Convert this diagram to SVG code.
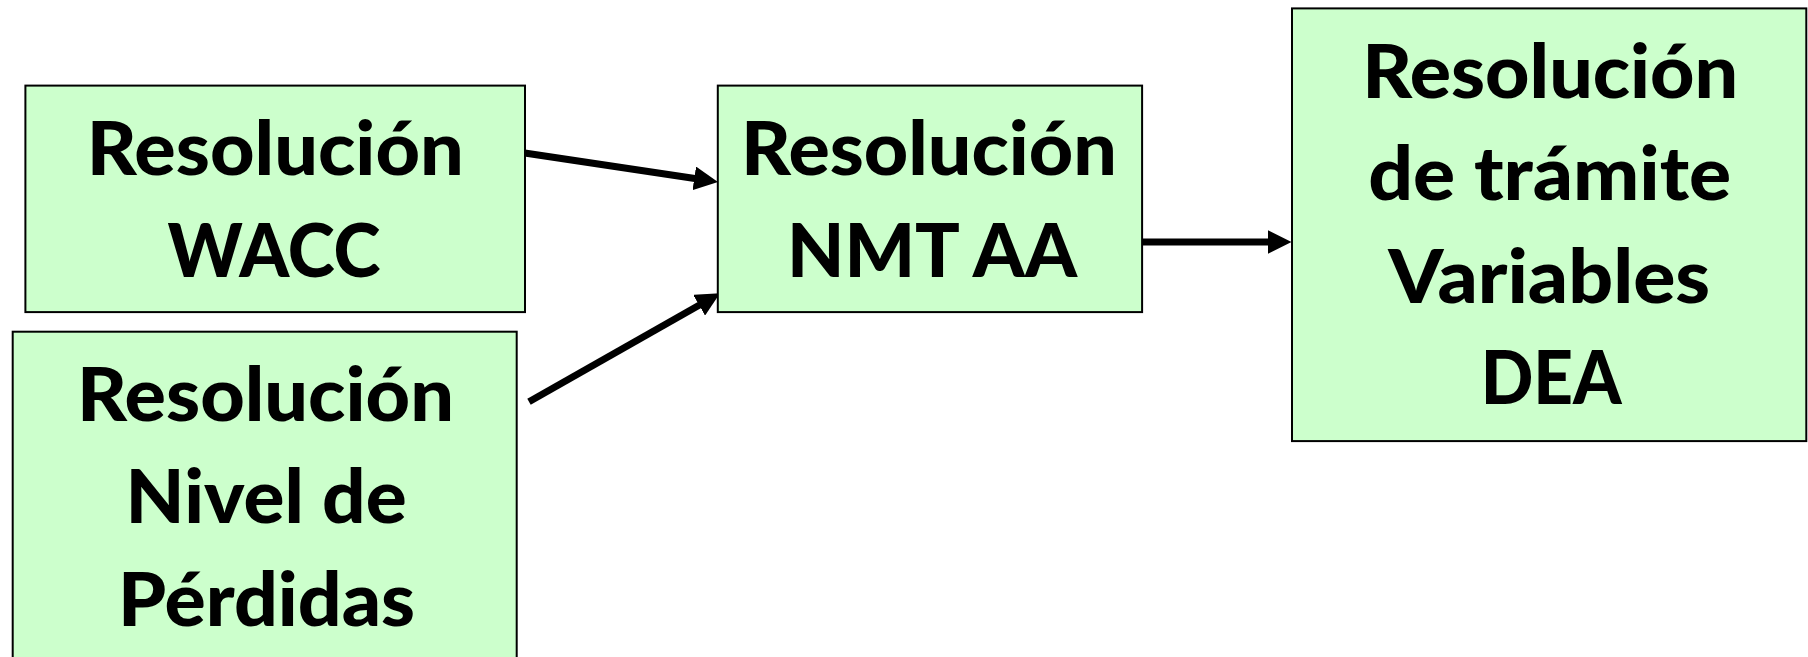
<svg xmlns="http://www.w3.org/2000/svg" width="1808" height="657" viewBox="0 0 1808 657">
  <style>
    .box { fill: #CCFFCC; stroke: #000000; stroke-width: 2; }
    .lbl { font-family: Lato, "Open Sans", "Liberation Sans", sans-serif; font-weight: 900; font-size: 75px; fill: #000000; text-anchor: middle; }
    .conn { stroke: #000000; stroke-width: 7; fill: none; marker-end: url(#arrow); }
  </style>
  <defs>
    <marker id="arrow" markerUnits="userSpaceOnUse" markerWidth="24" markerHeight="24" refX="4" refY="12" orient="auto" viewBox="0 0 24 24">
      <path d="M0,0 L24,12 L0,24 z" fill="#000000"/>
    </marker>
  </defs>
  <rect x="0" y="0" width="1808" height="657" fill="#FFFFFF"/>
  <g id="connectors">
    <line class="conn" x1="523" y1="152.7" x2="698.2" y2="179"/>
    <line class="conn" x1="529" y1="401.7" x2="702.6" y2="303.2"/>
    <line class="conn" x1="1142" y1="242" x2="1271.5" y2="242"/>
  </g>
  <g id="node-wacc">
    <rect class="box" x="25.4" y="85.6" width="499.6" height="226.5"/>
    <text class="lbl" x="275.3" y="175.1" textLength="377" lengthAdjust="spacingAndGlyphs">Resolución</text>
    <text class="lbl" x="274" y="277.3" textLength="213" lengthAdjust="spacingAndGlyphs">WACC</text>
  </g>
  <g id="node-perdidas">
    <rect class="box" x="12.7" y="331.7" width="504" height="340"/>
    <text class="lbl" x="265.5" y="421" textLength="377" lengthAdjust="spacingAndGlyphs">Resolución</text>
    <text class="lbl" x="266.1" y="522.8" textLength="281" lengthAdjust="spacingAndGlyphs">Nivel de</text>
    <text class="lbl" x="266.6" y="626.3" textLength="297" lengthAdjust="spacingAndGlyphs">Pérdidas</text>
  </g>
  <g id="node-nmt">
    <rect class="box" x="717.8" y="85.6" width="424.3" height="226.5"/>
    <text class="lbl" x="929" y="175.1" textLength="376" lengthAdjust="spacingAndGlyphs">Resolución</text>
    <text class="lbl" x="932" y="277.3" textLength="290" lengthAdjust="spacingAndGlyphs">NMT AA</text>
  </g>
  <g id="node-dea">
    <rect class="box" x="1292" y="8.4" width="514.3" height="432.7"/>
    <text class="lbl" x="1550.3" y="98.4" textLength="376" lengthAdjust="spacingAndGlyphs">Resolución</text>
    <text class="lbl" x="1549.7" y="200.3" textLength="363" lengthAdjust="spacingAndGlyphs">de trámite</text>
    <text class="lbl" x="1549.2" y="302.5" textLength="322" lengthAdjust="spacingAndGlyphs">Variables</text>
    <text class="lbl" x="1551.2" y="404.3" textLength="141" lengthAdjust="spacingAndGlyphs">DEA</text>
  </g>
</svg>
